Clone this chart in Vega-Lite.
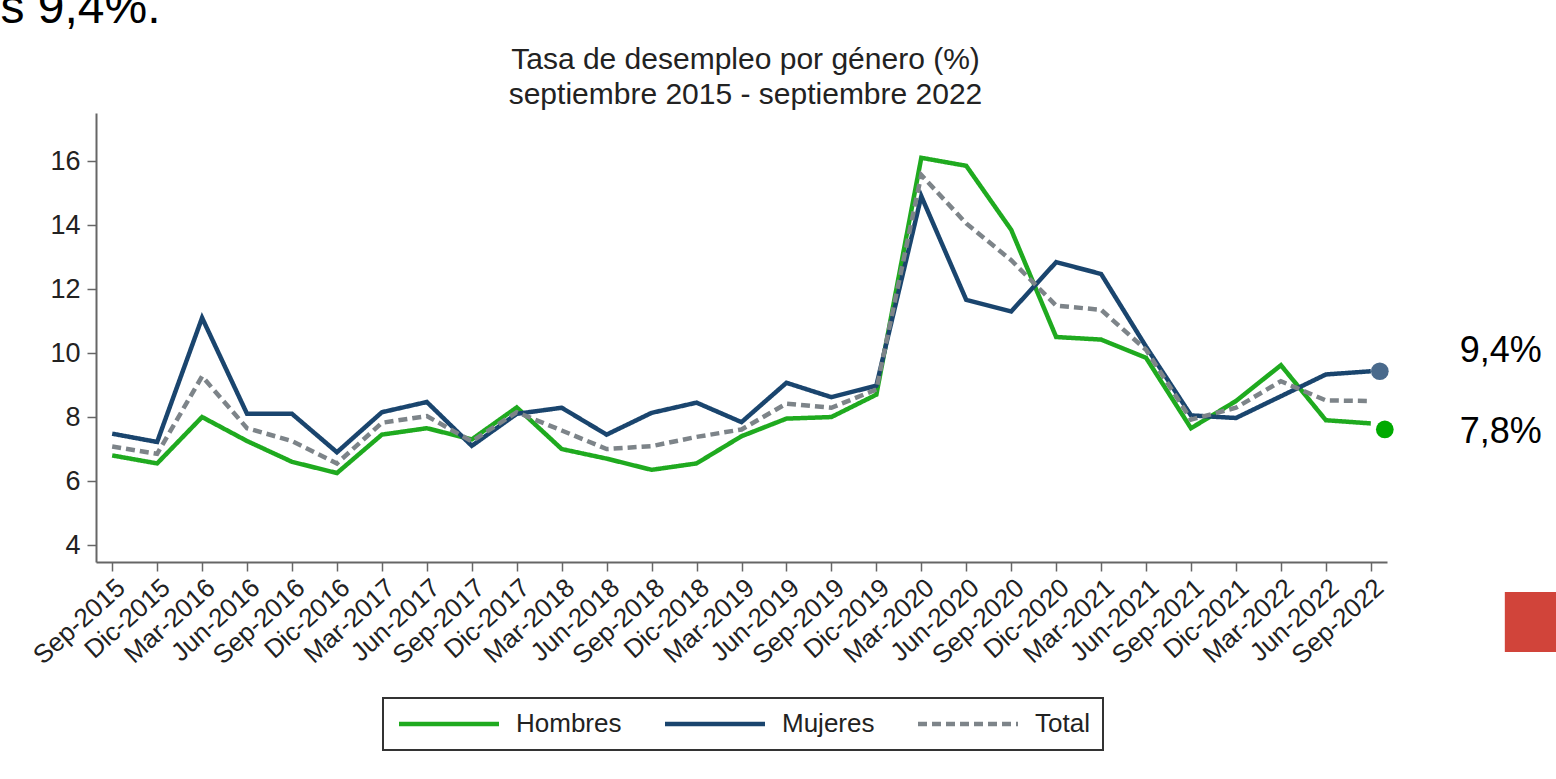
{
  "$schema": "https://vega.github.io/schema/vega-lite/v6.json",
  "width": 1291,
  "height": 449,
  "autosize": "none",
  "padding": {"left": 96, "top": 113, "right": 169, "bottom": 217},
  "background": "white",
  "config": {
    "view": {"stroke": null},
    "font": "Liberation Sans",
    "axis": {
      "grid": false,
      "domainColor": "#666666",
      "domainWidth": 2,
      "tickColor": "#666666",
      "tickWidth": 1.5,
      "tickSize": 9,
      "labelFont": "Liberation Sans",
      "labelColor": "#222222"
    },
    "legend": {"strokeWidth": 2}
  },
  "data": {
    "values": [
      {"fecha": "Sep-2015", "Hombres": 6.8, "Mujeres": 7.48, "Total": 7.08},
      {"fecha": "Dic-2015", "Hombres": 6.55, "Mujeres": 7.22, "Total": 6.85},
      {"fecha": "Mar-2016", "Hombres": 8.0, "Mujeres": 11.1, "Total": 9.27},
      {"fecha": "Jun-2016", "Hombres": 7.25, "Mujeres": 8.1, "Total": 7.65},
      {"fecha": "Sep-2016", "Hombres": 6.6, "Mujeres": 8.1, "Total": 7.25},
      {"fecha": "Dic-2016", "Hombres": 6.25, "Mujeres": 6.9, "Total": 6.55},
      {"fecha": "Mar-2017", "Hombres": 7.45, "Mujeres": 8.15, "Total": 7.82},
      {"fecha": "Jun-2017", "Hombres": 7.65, "Mujeres": 8.47, "Total": 8.03},
      {"fecha": "Sep-2017", "Hombres": 7.3, "Mujeres": 7.1, "Total": 7.24},
      {"fecha": "Dic-2017", "Hombres": 8.3, "Mujeres": 8.1, "Total": 8.15},
      {"fecha": "Mar-2018", "Hombres": 7.0, "Mujeres": 8.29, "Total": 7.58},
      {"fecha": "Jun-2018", "Hombres": 6.7, "Mujeres": 7.45, "Total": 7.0},
      {"fecha": "Sep-2018", "Hombres": 6.35, "Mujeres": 8.13, "Total": 7.09},
      {"fecha": "Dic-2018", "Hombres": 6.55, "Mujeres": 8.45, "Total": 7.38},
      {"fecha": "Mar-2019", "Hombres": 7.4, "Mujeres": 7.84, "Total": 7.61},
      {"fecha": "Jun-2019", "Hombres": 7.95, "Mujeres": 9.07, "Total": 8.42},
      {"fecha": "Sep-2019", "Hombres": 8.0, "Mujeres": 8.62, "Total": 8.29},
      {"fecha": "Dic-2019", "Hombres": 8.7, "Mujeres": 8.98, "Total": 8.86},
      {"fecha": "Mar-2020", "Hombres": 16.1, "Mujeres": 14.9, "Total": 15.56},
      {"fecha": "Jun-2020", "Hombres": 15.85, "Mujeres": 11.66, "Total": 14.05},
      {"fecha": "Sep-2020", "Hombres": 13.85, "Mujeres": 11.3, "Total": 12.9},
      {"fecha": "Dic-2020", "Hombres": 10.5, "Mujeres": 12.84, "Total": 11.48},
      {"fecha": "Mar-2021", "Hombres": 10.42, "Mujeres": 12.47, "Total": 11.35},
      {"fecha": "Jun-2021", "Hombres": 9.85, "Mujeres": 10.2, "Total": 10.1},
      {"fecha": "Sep-2021", "Hombres": 7.65, "Mujeres": 8.05, "Total": 7.92},
      {"fecha": "Dic-2021", "Hombres": 8.5, "Mujeres": 7.97, "Total": 8.29},
      {"fecha": "Mar-2022", "Hombres": 9.62, "Mujeres": 8.65, "Total": 9.12},
      {"fecha": "Jun-2022", "Hombres": 7.9, "Mujeres": 9.33, "Total": 8.52},
      {"fecha": "Sep-2022", "Hombres": 7.8, "Mujeres": 9.43, "Total": 8.5}
    ]
  },
  "transform": [
    {"fold": ["Hombres", "Mujeres", "Total"], "as": ["serie", "valor"]}
  ],
  "encoding": {
    "x": {
      "field": "fecha",
      "type": "ordinal",
      "sort": null,
      "scale": {"type": "point", "padding": 0.36},
      "axis": {
        "labelAngle": -42,
        "labelAlign": "right",
        "labelBaseline": "top",
        "labelPadding": 3,
        "labelFontSize": 26,
        "labelOverlap": false,
        "labelFlush": false,
        "labelBound": false,
        "title": "s 9,4%.",
        "titleX": 64,
        "titleY": -540,
        "titleAlign": "right",
        "titleBaseline": "alphabetic",
        "titleAngle": 0,
        "titleFont": "Liberation Sans",
        "titleFontSize": 48,
        "titleFontWeight": "normal",
        "titleColor": "#000000"
      }
    },
    "y": {
      "field": "valor",
      "type": "quantitative",
      "scale": {"domain": [3.47, 17.5], "nice": false, "zero": false},
      "axis": {
        "values": [4, 6, 8, 10, 12, 14, 16],
        "labelPadding": 7,
        "labelFontSize": 27,
        "title": ["Tasa de desempleo por género (%)", "septiembre 2015 - septiembre 2022"],
        "titleX": 649,
        "titleY": -45,
        "titleAngle": 0,
        "titleAlign": "center",
        "titleBaseline": "alphabetic",
        "titleFont": "Liberation Sans",
        "titleFontSize": 30,
        "titleFontWeight": "normal",
        "titleLineHeight": 35,
        "titleColor": "#222222"
      }
    }
  },
  "layer": [
    {
      "mark": {"type": "line", "strokeWidth": 4.5},
      "encoding": {
        "color": {
          "field": "serie",
          "type": "nominal",
          "scale": {"domain": ["Hombres", "Mujeres", "Total"], "range": ["#1FAA1F", "#1A456E", "#7D8489"]},
          "legend": {
            "title": null,
            "orient": "none",
            "legendX": 287,
            "legendY": 585,
            "direction": "horizontal",
            "columns": 3,
            "symbolType": "M-1,0H9",
            "symbolSize": 400,
            "symbolStrokeWidth": 4.5,
            "labelFont": "Liberation Sans",
            "labelFontSize": 26,
            "labelColor": "#222222",
            "labelOffset": 94,
            "columnPadding": 34,
            "padding": 13,
            "strokeColor": "#333333",
            "fillColor": "white"
          }
        },
        "strokeDash": {
          "field": "serie",
          "type": "nominal",
          "scale": {"domain": ["Hombres", "Mujeres", "Total"], "range": [[1, 0], [1, 0], [9, 5]]},
          "legend": {"title": null}
        }
      }
    },
    {
      "transform": [{"filter": "datum.fecha == 'Sep-2022' && datum.serie == 'Mujeres'"}],
      "mark": {"type": "point", "filled": true, "size": 314, "color": "#4A6A8C", "opacity": 1, "xOffset": 9}
    },
    {
      "transform": [{"filter": "datum.fecha == 'Sep-2022' && datum.serie == 'Hombres'"}],
      "mark": {"type": "point", "filled": true, "size": 314, "color": "#00AA00", "opacity": 1, "xOffset": 14, "yOffset": 6}
    },
    {
      "transform": [{"filter": "datum.fecha == 'Sep-2022' && datum.serie == 'Mujeres'"}],
      "mark": {"type": "text", "text": "9,4%", "align": "left", "baseline": "middle", "dx": 89, "dy": -20, "fontSize": 36, "font": "Liberation Sans", "color": "#000000"}
    },
    {
      "transform": [{"filter": "datum.fecha == 'Sep-2022' && datum.serie == 'Hombres'"}],
      "mark": {"type": "text", "text": "7,8%", "align": "left", "baseline": "middle", "dx": 89, "dy": 9, "fontSize": 36, "font": "Liberation Sans", "color": "#000000"}
    },
    {
      "transform": [{"filter": "datum.fecha == 'Sep-2022' && datum.serie == 'Total'"}],
      "mark": {"type": "square", "filled": true, "size": 3600, "color": "#D1443A", "opacity": 1, "xOffset": 164, "yOffset": 221}
    }
  ]
}
